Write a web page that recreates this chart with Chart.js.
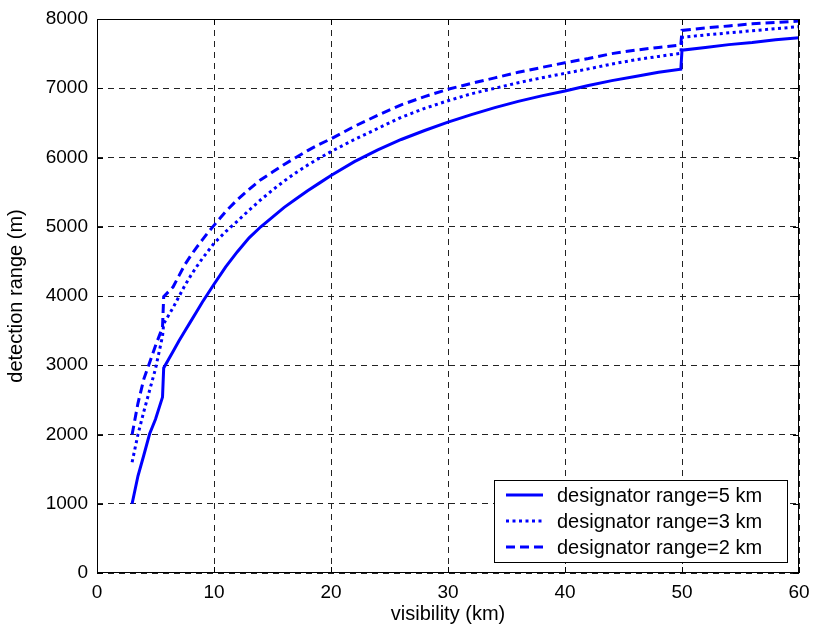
<!DOCTYPE html>
<html>
<head>
<meta charset="utf-8">
<script src="https://cdn.jsdelivr.net/npm/chart.js@4"></script>
<style>
  html, body { margin: 0; padding: 0; background: #fff; }
  #wrap { width: 815px; height: 632px; }
</style>
</head>
<body>
<div id="wrap"><canvas id="rangeChart" width="815" height="632"></canvas></div>
<script>
// visibility (km), shared by all three curves
var visibility = [3, 3.5, 4, 4.5, 5, 5.6, 5.7, 6.5, 7, 7.5, 8, 8.5, 9, 9.5, 10,
	11, 12, 13, 14, 15, 16, 17, 18, 19, 20, 22, 24, 26, 28, 30,
	32, 34, 36, 38, 40, 42, 44, 46, 48, 49.9, 50, 52, 54, 56, 58, 60];

var range5km = [1000, 1400, 1700, 2010, 2220, 2540, 2960, 3200, 3350, 3490, 3630, 3770, 3910, 4040, 4170,
	4420, 4640, 4840, 5000, 5140, 5280, 5400, 5520, 5630, 5740, 5940, 6110, 6260, 6390, 6510,
	6620, 6720, 6810, 6890, 6960, 7040, 7110, 7170, 7230, 7275, 7550, 7590, 7630, 7660, 7700, 7730];

var range3km = [1600, 2000, 2330, 2640, 2950, 3420, 3600, 3830, 3990, 4150, 4290, 4420, 4540, 4650, 4760,
	4930, 5080, 5240, 5390, 5530, 5660, 5780, 5890, 5990, 6085, 6260, 6420, 6580, 6710, 6820,
	6920, 7000, 7080, 7150, 7215, 7280, 7350, 7410, 7460, 7505, 7735, 7770, 7800, 7830, 7860, 7890];

var range2km = [2000, 2450, 2800, 3040, 3280, 3550, 3990, 4130, 4290, 4450, 4580, 4700, 4810, 4920, 5020,
	5220, 5390, 5540, 5680, 5790, 5900, 6000, 6100, 6190, 6270, 6450, 6610, 6760, 6880, 6985,
	7070, 7150, 7230, 7300, 7369, 7430, 7500, 7550, 7590, 7625, 7835, 7870, 7900, 7930, 7950, 7970];

var seriesLabels = ["designator range=5 km", "designator range=3 km", "designator range=2 km"];

function pts(ys) {
	return visibility.map(function (v, i) { return { x: v, y: ys[i] }; });
}

var FONT = "Liberation Sans, Arial, sans-serif";

// frame, inward ticks and legend box like a matlab figure
var figurePlugin = {
	id: "figure",
	afterDraw: function (chart) {
		var c = chart.ctx, a = chart.chartArea;
		var xs = chart.scales.x, ys = chart.scales.y;
		c.save();
		c.strokeStyle = "#000";
		c.lineWidth = 1;
		c.setLineDash([]);
		c.strokeRect(a.left + 0.5, a.top + 0.5, a.right - a.left - 1, a.bottom - a.top - 1);
		c.beginPath();
		xs.ticks.forEach(function (t) {
			var px = Math.round(xs.getPixelForValue(t.value)) + 0.5;
			c.moveTo(px, a.bottom); c.lineTo(px, a.bottom - 6);
			c.moveTo(px, a.top); c.lineTo(px, a.top + 6);
		});
		ys.ticks.forEach(function (t) {
			var py = Math.round(ys.getPixelForValue(t.value)) + 0.5;
			c.moveTo(a.left, py); c.lineTo(a.left + 6, py);
			c.moveTo(a.right, py); c.lineTo(a.right - 6, py);
		});
		c.stroke();

		// legend
		var w = 293, h = 82;
		var bx = a.right - 12 - w, by = a.bottom - 11 - h;
		c.fillStyle = "#fff";
		c.fillRect(bx, by, w, h);
		c.strokeRect(bx + 0.5, by + 0.5, w, h);
		c.font = "20px " + FONT;
		c.textBaseline = "middle";
		chart.data.datasets.forEach(function (ds, i) {
			var yy = by + 15 + i * 26;
			c.strokeStyle = ds.borderColor;
			c.lineWidth = ds.borderWidth;
			c.setLineDash(ds.borderDash || []);
			c.beginPath();
			c.moveTo(bx + 12, yy); c.lineTo(bx + 49, yy);
			c.stroke();
			c.setLineDash([]);
			c.fillStyle = "#000";
			c.fillText(ds.label, bx + 63, yy + 1);
		});
		c.restore();
	}
};

var ctx = document.getElementById("rangeChart").getContext("2d");
new Chart(ctx, {
	type: "line",
	data: {
		datasets: [
			{ label: seriesLabels[0], data: pts(range5km), borderColor: "#0000ff", borderWidth: 3, borderDash: [] },
			{ label: seriesLabels[1], data: pts(range3km), borderColor: "#0000ff", borderWidth: 3, borderDash: [3, 3.5] },
			{ label: seriesLabels[2], data: pts(range2km), borderColor: "#0000ff", borderWidth: 3, borderDash: [9, 5] }
		]
	},
	options: {
		responsive: false,
		animation: false,
		events: [],
		layout: { padding: { top: 19, right: 16, left: 0, bottom: 0 } },
		elements: { point: { radius: 0 }, line: { tension: 0 } },
		plugins: { legend: { display: false }, tooltip: { enabled: false } },
		scales: {
			x: {
				type: "linear",
				min: 0, max: 60,
				afterFit: function (s) { s.height = 59; s.paddingLeft = 0; s.paddingRight = 0; },
				ticks: { stepSize: 10, padding: 8, color: "#000", font: { family: FONT, size: 19 } },
				grid: { color: "#222", lineWidth: 1, drawTicks: false },
				border: { display: false, dash: [6, 5] },
				title: { display: true, text: "visibility (km)", color: "#000", padding: { top: 0, bottom: 6 }, font: { family: FONT, size: 20 } }
			},
			y: {
				min: 0, max: 8000,
				afterFit: function (s) { s.width = 97; s.paddingTop = 0; s.paddingBottom = 0; },
				ticks: {
					stepSize: 1000, padding: 9, color: "#000", font: { family: FONT, size: 19 },
					callback: function (v) { return String(v); }
				},
				grid: { color: "#222", lineWidth: 1, drawTicks: false },
				border: { display: false, dash: [6, 5] },
				title: { display: true, text: "detection range (m)", color: "#000", padding: { top: 4, bottom: 0 }, font: { family: FONT, size: 20 } }
			}
		}
	},
	plugins: [figurePlugin]
});
</script>
</body>
</html>
